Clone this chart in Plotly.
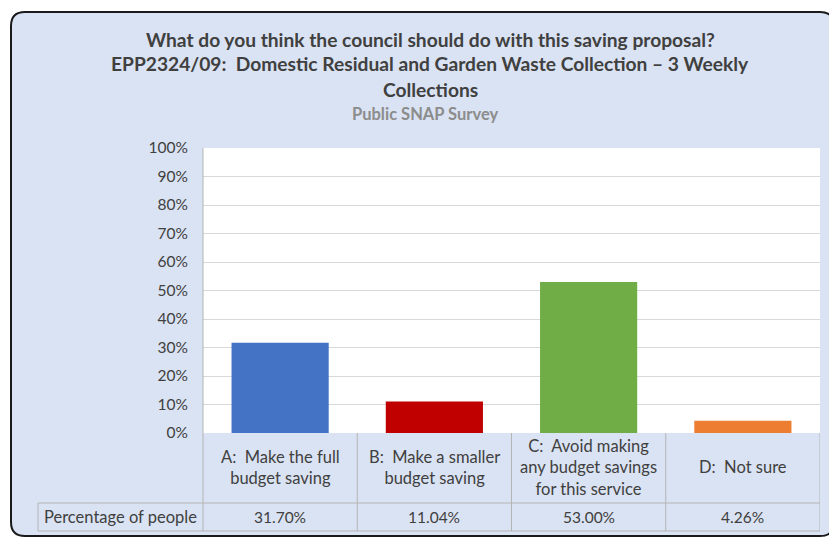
import plotly.graph_objects as go

# data
categories = ['A:  Make the full<br>budget saving',
              'B:  Make a smaller<br>budget saving',
              'C:  Avoid making<br>any budget savings<br>for this service',
              'D:  Not sure']
values = [0.3170, 0.1104, 0.5300, 0.0426]
value_labels = ['31.70%', '11.04%', '53.00%', '4.26%']
bar_colors = ['#4472C4', '#C00000', '#70AD47', '#ED7D31']
row_label = 'Percentage of people'

title_lines = ['What do you think the council should do with this saving proposal?',
               'EPP2324/09:  Domestic Residual and Garden Waste Collection \u2013 3 Weekly',
               'Collections']
subtitle = 'Public SNAP Survey'

W, H = 829, 538
L, R, T, B = 203, 820, 148, 433  # plot area in pixels
FONT = 'Lato'
TXT = '#404040'
TABLE_LINE = '#B4B4B4'


def px(x):
    # pixel -> paper x
    return (x - L) / (R - L)


def py(y):
    # pixel -> paper y
    return (B - y) / (B - T)


fig = go.Figure()
fig.add_trace(go.Bar(x=list(range(len(values))), y=values,
                     marker=dict(color=bar_colors, line=dict(width=0)),
                     width=0.63, hoverinfo='skip'))

shapes = []
# rounded frame (right side runs off the picture)
x0, x1, y0, y1, r = px(11), px(834), py(12), py(536), 14
rx, ry = r / (R - L), r / (B - T)
frame = (f'M {x0+rx},{y0} L {x1-rx},{y0} Q {x1},{y0} {x1},{y0-ry} '
         f'L {x1},{y1+ry} Q {x1},{y1} {x1-rx},{y1} '
         f'L {x0+rx},{y1} Q {x0},{y1} {x0},{y1+ry} '
         f'L {x0},{y0-ry} Q {x0},{y0} {x0+rx},{y0} Z')
shapes.append(dict(type='path', xref='paper', yref='paper', path=frame,
                   fillcolor='#DAE3F3', line=dict(color='#1A1A1A', width=2), layer='below'))
# white plot area
shapes.append(dict(type='rect', xref='paper', yref='paper', x0=0, x1=1, y0=0, y1=1,
                   fillcolor='white', line=dict(width=0), layer='below'))

# data table lines
row1, row2 = py(503), py(531)
for yy in (row1, row2):
    shapes.append(dict(type='line', xref='paper', yref='paper', x0=px(38), x1=1, y0=yy, y1=yy,
                       line=dict(color=TABLE_LINE, width=1)))
shapes.append(dict(type='line', xref='paper', yref='paper', x0=px(38), x1=px(38), y0=row1, y1=row2,
                   line=dict(color=TABLE_LINE, width=1)))
shapes.append(dict(type='line', xref='paper', yref='paper', x0=0, x1=0, y0=1, y1=row2,
                   line=dict(color=TABLE_LINE, width=1)))
for i in range(len(categories)):
    shapes.append(dict(type='line', xref='x', yref='paper', x0=i + 0.5, x1=i + 0.5, y0=0, y1=row2,
                       line=dict(color=TABLE_LINE, width=1)))

annotations = []
title_y = [40, 64, 89]
for t, yy in zip(title_lines, title_y):
    annotations.append(dict(text=f'<b>{t}</b>', xref='paper', yref='paper', x=px(430), y=py(yy),
                            showarrow=False, xanchor='center', yanchor='middle',
                            font=dict(family=FONT, size=19.2, color=TXT)))
annotations.append(dict(text=f'<b>{subtitle}</b>', xref='paper', yref='paper', x=px(425), y=py(114),
                        showarrow=False, xanchor='center', yanchor='middle',
                        font=dict(family=FONT, size=16.5, color='#8C8C8C')))

for i, (c, v) in enumerate(zip(categories, value_labels)):
    annotations.append(dict(text=c, xref='x', yref='paper', x=i, y=py(467),
                            showarrow=False, xanchor='center', yanchor='middle',
                            font=dict(family=FONT, size=16.5, color=TXT)))
    annotations.append(dict(text=v, xref='x', yref='paper', x=i, y=py(517),
                            showarrow=False, xanchor='center', yanchor='middle',
                            font=dict(family=FONT, size=15.5, color=TXT)))
annotations.append(dict(text=row_label, xref='paper', yref='paper', x=px(120), y=py(517),
                        showarrow=False, xanchor='center', yanchor='middle',
                        font=dict(family=FONT, size=16.5, color=TXT)))

fig.update_layout(
    width=W, height=H,
    margin=dict(l=L, r=W - R, t=T, b=H - B),
    paper_bgcolor='white',
    plot_bgcolor='rgba(0,0,0,0)',
    showlegend=False,
    shapes=shapes,
    annotations=annotations,
    bargap=0.37,
    xaxis=dict(range=[-0.5, 3.5], showticklabels=False, showgrid=False, zeroline=False,
               showline=False, fixedrange=True),
    yaxis=dict(range=[0, 1], dtick=0.1, tickformat='.0%', showgrid=True, gridcolor='#D9D9D9',
               gridwidth=1, zeroline=False, showline=False, ticks='', ticklabelstandoff=14,
               tickfont=dict(family=FONT, size=15.5, color=TXT), fixedrange=True),
)

# drop the default page margin so the figure fills the window
fig.write_html('out.html', config={'displayModeBar': False},
               post_script="document.body.style.margin='0';document.body.style.overflow='hidden';")
